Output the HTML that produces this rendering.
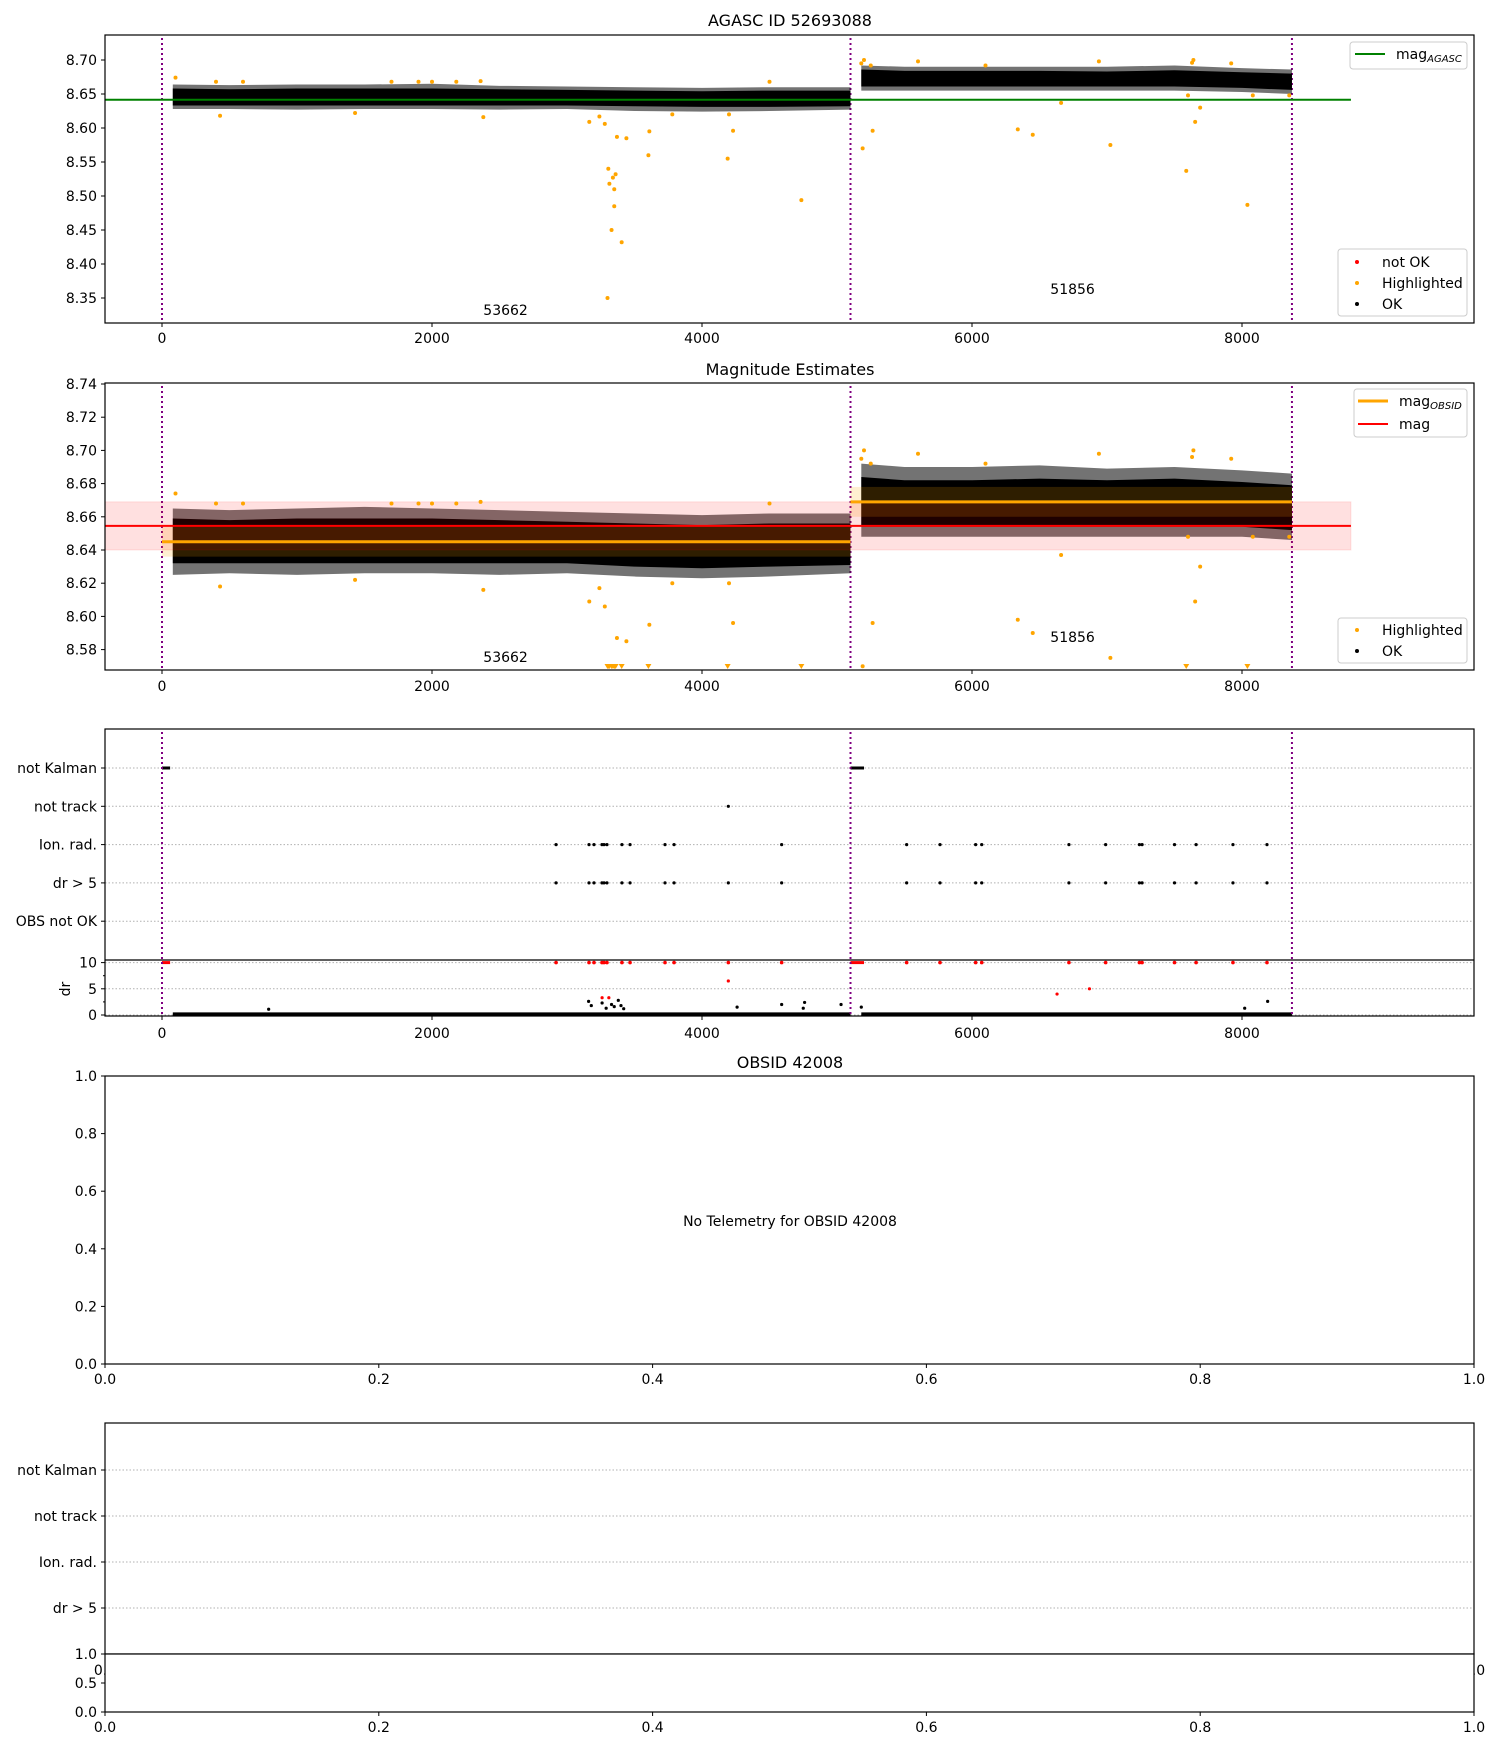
<!DOCTYPE html>
<html><head><meta charset="utf-8"><style>
html,body{margin:0;padding:0;background:#fff;}
svg{display:block;font-family:"DejaVu Sans","Liberation Sans",sans-serif;}
</style></head><body>
<svg id="fig" width="1500" height="1750" viewBox="0 0 1500 1750" xmlns="http://www.w3.org/2000/svg"></svg>
<script>
// ---------- data ----------
const xTicks = [0, 2000, 4000, 6000, 8000];
const obsBoundaries = [0, 5100, 8370];
const obsLabels = ["53662", "51856"];
const obsLabelX = [2380, 6580];
// panel 1 (AGASC) OK band envelope
const seg1X = [80, 500, 1000, 1500, 2000, 2500, 3000, 3500, 4000, 4500, 5100];
const seg1Up = [8.664, 8.663, 8.664, 8.664, 8.665, 8.662, 8.661, 8.660, 8.659, 8.660, 8.660];
const seg1Lo = [8.628, 8.628, 8.627, 8.628, 8.628, 8.627, 8.628, 8.625, 8.624, 8.625, 8.627];
const seg1CoreUp = [8.658, 8.657, 8.658, 8.658, 8.658, 8.657, 8.656, 8.655, 8.654, 8.655, 8.655];
const seg1CoreLo = [8.633, 8.633, 8.633, 8.633, 8.633, 8.633, 8.633, 8.632, 8.631, 8.631, 8.632];
const seg2X = [5180, 5500, 6000, 6500, 7000, 7500, 8000, 8370];
const seg2Up = [8.692, 8.690, 8.690, 8.690, 8.690, 8.692, 8.688, 8.686];
const seg2Lo = [8.655, 8.655, 8.655, 8.655, 8.655, 8.655, 8.653, 8.650];
const seg2CoreUp = [8.686, 8.684, 8.684, 8.684, 8.683, 8.685, 8.682, 8.680];
const seg2CoreLo = [8.661, 8.661, 8.661, 8.661, 8.661, 8.661, 8.659, 8.656];
const magAgasc = 8.6415;
// panel 2 (estimates)
const est1Up = [8.665, 8.664, 8.665, 8.666, 8.665, 8.664, 8.663, 8.662, 8.661, 8.662, 8.662];
const est1Lo = [8.625, 8.626, 8.625, 8.626, 8.626, 8.625, 8.626, 8.624, 8.623, 8.624, 8.626];
const est1CoreUp = [8.659, 8.658, 8.659, 8.659, 8.659, 8.658, 8.657, 8.656, 8.655, 8.656, 8.656];
const est1CoreLo = [8.632, 8.632, 8.632, 8.632, 8.632, 8.632, 8.632, 8.630, 8.629, 8.630, 8.631];
const est2Up = [8.692, 8.690, 8.690, 8.691, 8.689, 8.690, 8.688, 8.686];
const est2Lo = [8.648, 8.648, 8.648, 8.648, 8.648, 8.648, 8.648, 8.646];
const est2CoreUp = [8.684, 8.682, 8.682, 8.683, 8.682, 8.683, 8.681, 8.679];
const est2CoreLo = [8.654, 8.654, 8.654, 8.654, 8.654, 8.654, 8.654, 8.652];
const magObsid = [8.645, 8.669];
const magObsidErr = 0.009;
const magMean = 8.6545, magLo = 8.640, magHi = 8.669;
// highlighted points [x, mag]
const hlX = [100,400,430,600,1430,1700,1900,2000,2180,2360,2380,3300,3165,3240,3280,3306,3314,3340,3360,3350,3350,3330,3405,3370,3440,3603,3610,3780,4190,4230,4736,4200,4500,5190,5264,5200,5180,5250,5600,6100,6339,6450,6660,6940,7025,7587,7653,7690,7600,7640,7630,7920,8040,8080,8350];
const hlY = [8.674,8.668,8.618,8.668,8.622,8.668,8.668,8.668,8.668,8.669,8.616,8.35,8.609,8.617,8.606,8.54,8.518,8.527,8.532,8.51,8.485,8.45,8.432,8.587,8.585,8.56,8.595,8.62,8.555,8.596,8.494,8.62,8.668,8.570,8.596,8.70,8.695,8.692,8.698,8.692,8.598,8.590,8.637,8.698,8.575,8.537,8.609,8.630,8.648,8.700,8.696,8.695,8.487,8.648,8.648];
// flags panel
const flagNames = ["not Kalman", "not track", "Ion. rad.", "dr > 5", "OBS not OK"];
const ionX = [2919,3163,3200,3259,3274,3296,3407,3467,3726,3793,4590,5516,5763,6027,6072,6718,6990,7240,7260,7500,7660,7933,8185];
const notTrackX = [4195];
const drFlagX = [2919,3163,3200,3259,3274,3296,3407,3467,3726,3793,4195,4590,5516,5763,6027,6072,6718,6990,7240,7260,7500,7660,7933,8185];
const kalmanSegStart = [0, 5100];
const kalmanSegEnd = [60, 5200];
const drTicks = [0, 5, 10];
const drPeakX = [790,3160,3180,3260,3290,3330,3350,3380,3400,3420,4260,4590,4750,4760,5030,5180,8020,8190];
const drPeakY = [1.1,2.6,1.8,2.3,1.3,2.0,1.6,2.8,1.8,1.2,1.5,2.0,1.3,2.4,2.0,1.5,1.3,2.6];
const drRedX = [3260,3310,4195,6630,6870];
const drRedY = [3.3,3.3,6.5,4.0,5.0];
const unitTicks = [0, 0.2, 0.4, 0.6, 0.8, 1.0];
const unitTickLabels = ["0.0","0.2","0.4","0.6","0.8","1.0"];
const p1YTicks = [8.35,8.40,8.45,8.50,8.55,8.60,8.65,8.70];
const p2YTicks = [8.58,8.60,8.62,8.64,8.66,8.68,8.70,8.72,8.74];

// ---------- helpers ----------
const NS = "http://www.w3.org/2000/svg";
const svg = document.getElementById("fig");
function mk(tag, attrs, parent) {
  const e = document.createElementNS(NS, tag);
  for (const k in attrs) e.setAttribute(k, attrs[k]);
  (parent || svg).appendChild(e);
  return e;
}
const L = 105, R = 1474;
const xs = v => 162 + v * 0.135;
const ux = v => L + v * (R - L);

function frame(t, b, name) {
  const g = mk("g", {});
  
  
  const r = mk("rect", {x: L, y: t, width: R - L, height: b - t, fill: "#fff", stroke: "none"}, g);
  
  
  return g;
}
function border(t, b, g) {
  const r = mk("rect", {x: L, y: t, width: R - L, height: b - t, fill: "none", stroke: "#000", "stroke-width": 1.2}, g);
  
  
}
function text(x, y, s, anchor, size, g, name) {
  const e = mk("text", {x: x, y: y, "text-anchor": anchor, "font-size": size, fill: "#000"}, g);
  e.textContent = s;
  
  
  return e;
}
function xAxis(b, g, ly) {
  xTicks.forEach(v => {
    mk("line", {x1: xs(v), x2: xs(v), y1: b, y2: b + 4, stroke: "#000"}, g);
    text(xs(v), ly, String(v), "middle", 14, g, 'x-tick-label');
  });
}
function yTick(y, label, g) {
  mk("line", {x1: L - 4, x2: L, y1: y, y2: y, stroke: "#000"}, g);
  text(L - 8, y + 5, label, "end", 14, g, 'y-tick-label');
}
function vlines(t, b, g) {
  obsBoundaries.forEach(v => {
    const l = mk("line", {x1: xs(v), x2: xs(v), y1: t, y2: b, stroke: "#800080", "stroke-width": 2, "stroke-dasharray": "2,3"}, g);
    
    
  });
}
function band(xArr, up, lo, ys, g, name, op) {
  let d = "M" + xArr.map((x, i) => xs(x) + "," + ys(up[i])).join(" L");
  for (let i = xArr.length - 1; i >= 0; i--) d += " L" + xs(xArr[i]) + "," + ys(lo[i]);
  const p = mk("path", {d: d + " Z", fill: "#000", "fill-opacity": op}, g);
  
  
}
function dot(x, y, r, c, g, name) {
  const e = mk("circle", {cx: x, cy: y, r: r, fill: c}, g);
  
  
}

// ---------- panel 1 ----------
(function () {
  const T = 35, B = 323;
  const ys = v => 60 + (8.70 - v) / 0.05 * 34;
  const g = frame(T, B, 'agasc-panel');
  text(790, 26, "AGASC ID 52693088", "middle", 16, g, 'agasc-title');
  vlines(T + 3, B, g);
  band(seg1X, seg1Up, seg1Lo, ys, g, 'ok-points-obs1-edge', 0.55);
  band(seg1X, seg1CoreUp, seg1CoreLo, ys, g, 'ok-points-obs1', 1);
  band(seg2X, seg2Up, seg2Lo, ys, g, 'ok-points-obs2-edge', 0.55);
  band(seg2X, seg2CoreUp, seg2CoreLo, ys, g, 'ok-points-obs2', 1);
  hlX.forEach((x, i) => { if (hlY[i] > 8.313) dot(xs(x), ys(hlY[i]), 2, "#ffa500", g, 'highlighted-point'); });
  const gl = mk("line", {x1: L, x2: xs(8807), y1: ys(magAgasc), y2: ys(magAgasc), stroke: "#008000", "stroke-width": 2}, g);
  
  
  obsLabels.forEach((s, i) => text(xs(obsLabelX[i]), i ? 294 : 315, s, "start", 14, g, 'obsid-label'));
  border(T, B, g);
  p1YTicks.forEach(v => yTick(ys(v), v.toFixed(2), g));
  xAxis(B, g, 343);
  const lg = mk("g", {}, g);
  
  
  mk("rect", {x: 1350, y: 42, width: 117, height: 27, rx: 3, fill: "#fff", stroke: "#ccc"}, lg);
  mk("line", {x1: 1355, x2: 1385, y1: 54, y2: 54, stroke: "#008000", "stroke-width": 2}, lg);
  const t1 = text(1396, 59, "mag", "start", 14, lg, 'legend-label');
  const s1 = mk("tspan", {"font-size": 10, "font-style": "italic", dy: 3}, t1); s1.textContent = "AGASC";
  const lg2 = mk("g", {}, g);
  
  
  mk("rect", {x: 1338, y: 249, width: 129, height: 67, rx: 3, fill: "#fff", stroke: "#ccc"}, lg2);
  [["not OK", "red", 262], ["Highlighted", "#ffa500", 283], ["OK", "#000", 304]].forEach(e => {
    dot(1357, e[2], 2, e[1], lg2, 'legend-marker');
    text(1382, e[2] + 5, e[0], "start", 14, lg2, 'legend-entry');
  });
})();

// ---------- panel 2 ----------
(function () {
  const T = 383, B = 670;
  const ys = v => 384 + (8.74 - v) / 0.02 * 33.2;
  const g = frame(T, B, 'estimates-panel');
  text(790, 375, "Magnitude Estimates", "middle", 16, g, 'estimates-title');
  vlines(T + 3, B, g);
  band(seg1X, est1Up, est1Lo, ys, g, 'ok-points-obs1-edge', 0.55);
  band(seg1X, est1CoreUp, est1CoreLo, ys, g, 'ok-points-obs1', 1);
  band(seg2X, est2Up, est2Lo, ys, g, 'ok-points-obs2-edge', 0.55);
  band(seg2X, est2CoreUp, est2CoreLo, ys, g, 'ok-points-obs2', 1);
  const segs = [[0, 5100], [5100, 8370]];
  segs.forEach((s, i) => {
    const r = mk("rect", {x: xs(s[0]), width: xs(s[1]) - xs(s[0]), y: ys(magObsid[i] + magObsidErr), height: ys(magObsid[i] - magObsidErr) - ys(magObsid[i] + magObsidErr), fill: "#ffa500", "fill-opacity": 0.18}, g);
    
    
  });
  const rb = mk("rect", {x: L, width: xs(8807) - L, y: ys(magHi), height: ys(magLo) - ys(magHi), fill: "#ff0000", "fill-opacity": 0.12, stroke: "#ff0000", "stroke-opacity": 0.1}, g);
  
  
  hlX.forEach((x, i) => {
    if (hlY[i] > 8.5677) dot(xs(x), ys(hlY[i]), 2, "#ffa500", g, 'highlighted-point');
    else {
      const px = xs(x), py = ys(8.5695);
      const p = mk("path", {d: `M${px - 3},${py - 3} L${px + 3},${py - 3} L${px},${py + 2} Z`, fill: "#ffa500"}, g);
      
      
    }
  });
  const rl = mk("line", {x1: L, x2: xs(8807), y1: ys(magMean), y2: ys(magMean), stroke: "#ff0000", "stroke-width": 2}, g);
  
  
  segs.forEach((s, i) => {
    const ol = mk("line", {x1: xs(s[0]), x2: xs(s[1]), y1: ys(magObsid[i]), y2: ys(magObsid[i]), stroke: "#ffa500", "stroke-width": 3}, g);
    
    
  });
  obsLabels.forEach((s, i) => text(xs(obsLabelX[i]), i ? 642 : 662, s, "start", 14, g, 'obsid-label'));
  border(T, B, g);
  p2YTicks.forEach(v => yTick(ys(v), v.toFixed(2), g));
  xAxis(B, g, 691);
  const lg = mk("g", {}, g);
  
  
  mk("rect", {x: 1354, y: 389, width: 113, height: 48, rx: 3, fill: "#fff", stroke: "#ccc"}, lg);
  mk("line", {x1: 1358, x2: 1388, y1: 401, y2: 401, stroke: "#ffa500", "stroke-width": 3}, lg);
  mk("line", {x1: 1358, x2: 1388, y1: 424, y2: 424, stroke: "#ff0000", "stroke-width": 2}, lg);
  const t1 = text(1399, 406, "mag", "start", 14, lg, 'legend-label');
  const s1 = mk("tspan", {"font-size": 10, "font-style": "italic", dy: 3}, t1); s1.textContent = "OBSID";
  text(1399, 429, "mag", "start", 14, lg, 'legend-label');
  const lg2 = mk("g", {}, g);
  
  
  mk("rect", {x: 1338, y: 618, width: 129, height: 45, rx: 3, fill: "#fff", stroke: "#ccc"}, lg2);
  [["Highlighted", "#ffa500", 630], ["OK", "#000", 651]].forEach(e => {
    dot(1357, e[2], 2, e[1], lg2, 'legend-marker');
    text(1382, e[2] + 5, e[0], "start", 14, lg2, 'legend-entry');
  });
})();

// ---------- panel 3 (flags + dr) ----------
(function () {
  const T = 729, S = 960, B = 1016;
  const fy = i => 768 + i * 38.3;
  const dy = v => 1015 - v * 5.24;
  const g = frame(T, B, 'flags-panel');
  flagNames.forEach((n, i) => {
    mk("line", {x1: L, x2: R, y1: fy(i), y2: fy(i), stroke: "#b0b0b0", "stroke-dasharray": "1.5,2"}, g);
    yTick(fy(i), n, g);
  });
  drTicks.forEach(v => mk("line", {x1: L, x2: R, y1: dy(v), y2: dy(v), stroke: "#b0b0b0", "stroke-dasharray": "1.5,2"}, g));
  kalmanSegStart.forEach((s, i) => {
    const l = mk("line", {x1: xs(s), x2: xs(kalmanSegEnd[i]), y1: fy(0), y2: fy(0), stroke: "#000", "stroke-width": 3}, g);
    
    
    const r = mk("line", {x1: xs(s), x2: xs(kalmanSegEnd[i]), y1: dy(10), y2: dy(10), stroke: "#ff0000", "stroke-width": 3}, g);
    
    
  });
  notTrackX.forEach(x => dot(xs(x), fy(1), 1.6, "#000", g, 'not-track-flag'));
  ionX.forEach(x => dot(xs(x), fy(2), 1.6, "#000", g, 'ion-rad-flag'));
  drFlagX.forEach(x => {
    dot(xs(x), fy(3), 1.6, "#000", g, 'dr-flag');
    dot(xs(x), dy(10), 1.8, "#ff0000", g, 'dr-clipped-point');
  });
  [[80, 5100], [5180, 8370]].forEach(s => {
    const r = mk("rect", {x: xs(s[0]), width: xs(s[1]) - xs(s[0]), y: dy(0.5), height: dy(0) - dy(0.5) + 1, fill: "#000"}, g);
    
    
  });
  drPeakX.forEach((x, i) => dot(xs(x), dy(drPeakY[i]), 1.6, "#000", g, 'dr-point'));
  drRedX.forEach((x, i) => dot(xs(x), dy(drRedY[i]), 1.6, "#ff0000", g, 'dr-notok-point'));
  vlines(T + 3, B, g);
  border(T, B, g);
  mk("line", {x1: L, x2: R, y1: S, y2: S, stroke: "#000", "stroke-width": 1.2}, g);
  drTicks.forEach(v => yTick(dy(v), String(v), g));
  [2.5, 7.5].forEach(v => mk("line", {x1: L - 2, x2: L, y1: dy(v), y2: dy(v), stroke: "#000"}, g));
  const yl = text(0, 0, "dr", "middle", 14, g, 'dr-axis-title');
  yl.setAttribute("transform", "translate(70,989) rotate(-90)");
  xAxis(B, g, 1038);
})();

// ---------- panel 4 (empty OBSID) ----------
(function () {
  const T = 1076, B = 1364;
  const uy = v => B - v * (B - T);
  const g = frame(T, B, 'obsid-panel');
  text(790, 1068, "OBSID 42008", "middle", 16, g, 'obsid-title');
  text(790, 1226, "No Telemetry for OBSID 42008", "middle", 14, g, 'no-telemetry-message');
  border(T, B, g);
  unitTicks.forEach((v, i) => {
    yTick(uy(v), unitTickLabels[i], g);
    mk("line", {x1: ux(v), x2: ux(v), y1: B, y2: B + 4, stroke: "#000"}, g);
    text(ux(v), B + 20, unitTickLabels[i], "middle", 14, g, 'x-tick-label');
  });
})();

// ---------- panel 5 (empty flags) ----------
(function () {
  const T = 1423, S = 1654, B = 1712;
  const fy = i => 1470 + i * 46;
  const g = frame(T, B, 'obsid-flags-panel');
  unitTicks.forEach((v, i) => text(ux(v), 1675, unitTickLabels[i], "middle", 14, g, 'hidden-x-tick-label'));
  flagNames.slice(0, 4).forEach((n, i) => {
    mk("line", {x1: L, x2: R, y1: fy(i), y2: fy(i), stroke: "#b0b0b0", "stroke-dasharray": "1.5,2"}, g);
    yTick(fy(i), n, g);
  });
  border(T, S, g);
  const g2 = frame(S, B, 'obsid-dr-panel');
  border(S, B, g2);
  const uy = v => B - v * (B - S);
  [0, 0.5, 1.0].forEach(v => yTick(uy(v), v.toFixed(1), g2));
  unitTicks.forEach((v, i) => {
    mk("line", {x1: ux(v), x2: ux(v), y1: B, y2: B + 4, stroke: "#000"}, g2);
    text(ux(v), B + 20, unitTickLabels[i], "middle", 14, g2, 'x-tick-label');
  });
})();
</script>
</body></html>
